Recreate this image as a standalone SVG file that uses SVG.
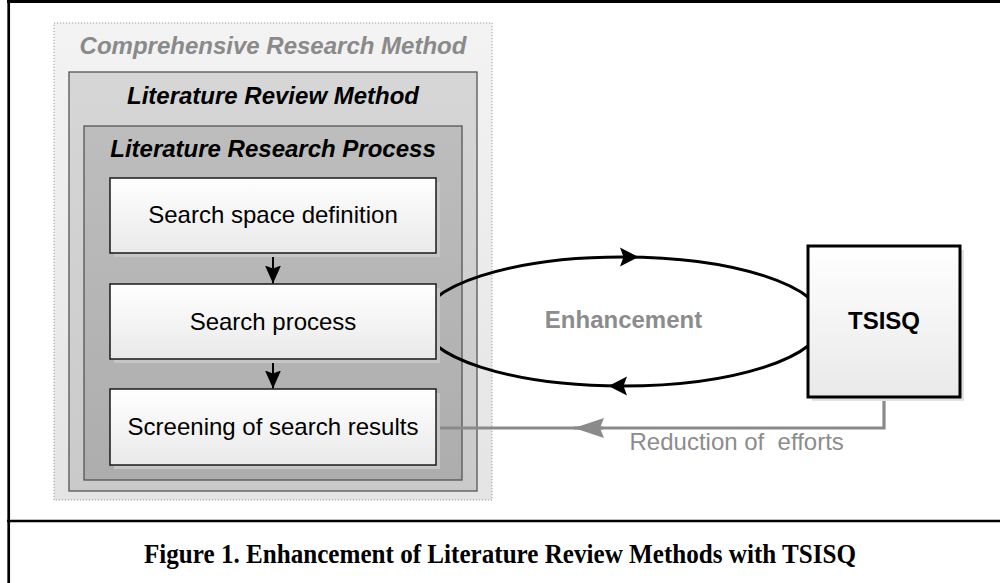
<svg xmlns="http://www.w3.org/2000/svg" width="1000" height="583" viewBox="0 0 1000 583">
  <style>
    .sans { font-family: "Liberation Sans", Arial, sans-serif; }
    .title { font-size: 24px; font-weight: bold; font-style: italic; text-anchor: middle; }
    .label { font-size: 24px; fill: #000; text-anchor: middle; }
    .step { fill: url(#stepFill); stroke: #1a1a1a; stroke-width: 1.5; }
    .shadow { fill: #c6c6c6; }
    .flow { fill: none; stroke: #000; stroke-width: 2; }
    .loop { fill: none; stroke: #000; stroke-width: 3; }
    .feedback { fill: none; stroke: #8a8a8a; stroke-width: 3.2; }
    .frame { stroke: #000; fill: none; }
  </style>
  <defs>
    <linearGradient id="stepFill" x1="0" y1="0" x2="0" y2="1">
      <stop offset="0" stop-color="#ffffff"/>
      <stop offset="1" stop-color="#e9e9e9"/>
    </linearGradient>
    <linearGradient id="outerFill" x1="0" y1="0" x2="0" y2="1">
      <stop offset="0" stop-color="#f3f3f3"/>
      <stop offset="1" stop-color="#e4e4e4"/>
    </linearGradient>
    <linearGradient id="midFill" x1="0" y1="0" x2="0" y2="1">
      <stop offset="0" stop-color="#d6d6d6"/>
      <stop offset="1" stop-color="#cacaca"/>
    </linearGradient>
    <linearGradient id="innerFill" x1="0" y1="0" x2="0" y2="1">
      <stop offset="0" stop-color="#bdbdbd"/>
      <stop offset="1" stop-color="#adadad"/>
    </linearGradient>
    <marker id="arrowDown" viewBox="0 0 18 16" refX="18" refY="8" markerWidth="18" markerHeight="16" markerUnits="userSpaceOnUse" orient="auto">
      <path d="M0,0 L18,8 L0,16 L3,8 Z" fill="#000"/>
    </marker>
    <marker id="arrowGray" viewBox="0 0 30 20" refX="30" refY="10" markerWidth="30" markerHeight="20" markerUnits="userSpaceOnUse" orient="auto">
      <path d="M0,0 L30,10 L0,20 L4,10 Z" fill="#8a8a8a"/>
    </marker>
  </defs>

  <rect width="1000" height="583" fill="#fff"/>

  <!-- page frame and caption divider -->
  <g id="frame" class="frame">
    <line x1="7" y1="1.5" x2="1000" y2="1.5" stroke-width="3"/>
    <line x1="8.7" y1="0" x2="8.7" y2="583" stroke-width="2.7"/>
    <line x1="7" y1="521" x2="1000" y2="521" stroke-width="2.7"/>
  </g>

  <!-- nested method containers -->
  <g id="comprehensive-research-method">
    <rect x="54" y="23" width="438" height="477" fill="url(#outerFill)" stroke="#9a9a9a" stroke-width="1" stroke-dasharray="1.2 1.8"/>
    <text class="sans title" x="273" y="54" fill="#8a8a8a">Comprehensive Research Method</text>
  </g>
  <g id="literature-review-method">
    <rect x="69" y="72" width="408" height="419" fill="url(#midFill)" stroke="#555" stroke-width="1.3"/>
    <text class="sans title" x="273" y="104" fill="#000">Literature Review Method</text>
  </g>
  <g id="literature-research-process">
    <rect x="84" y="126" width="378" height="354" fill="url(#innerFill)" stroke="#555" stroke-width="1.3"/>
    <text class="sans title" x="273" y="157" fill="#000">Literature Research Process</text>
  </g>

  <!-- connectors -->
  <g id="connectors">
    <line class="flow" x1="273" y1="253" x2="273" y2="283.5" marker-end="url(#arrowDown)"/>
    <line class="flow" x1="273" y1="359" x2="273" y2="388.5" marker-end="url(#arrowDown)"/>
    <ellipse class="loop" cx="622.5" cy="321.5" rx="200.5" ry="64.5"/>
    <path d="M620,247.5 L638.5,257 L620,266.5 L623.5,257 Z" fill="#000"/>
    <path d="M627,376.5 L608.5,386 L627,395.5 L623.5,386 Z" fill="#000"/>
    <path class="feedback" d="M884,397 V428 H574" marker-end="url(#arrowGray)"/>
    <line class="feedback" x1="603" y1="428" x2="437" y2="428"/>
    <text class="sans" x="623.5" y="328" font-size="24" font-weight="bold" fill="#8c8c8c" text-anchor="middle">Enhancement</text>
    <text class="sans" x="629.5" y="450" font-size="24" fill="#8c8c8c" xml:space="preserve">Reduction of  efforts</text>
  </g>

  <!-- process steps -->
  <g id="search-space-definition">
    <rect class="shadow" x="114" y="182" width="326" height="75"/>
    <rect class="step" x="110" y="178" width="326" height="75"/>
    <text class="sans label" x="273" y="223">Search space definition</text>
  </g>
  <g id="search-process">
    <rect class="shadow" x="114" y="288" width="326" height="75"/>
    <rect class="step" x="110" y="284" width="326" height="75"/>
    <text class="sans label" x="273" y="330">Search process</text>
  </g>
  <g id="screening-of-search-results">
    <rect class="shadow" x="114" y="393" width="326" height="76"/>
    <rect class="step" x="110" y="389" width="326" height="76"/>
    <text class="sans label" x="273" y="435">Screening of search results</text>
  </g>
  <g id="tsisq">
    <rect x="812" y="250" width="152" height="151" fill="#e2e2e2"/>
    <rect x="808" y="246" width="152" height="151" fill="url(#stepFill)" stroke="#000" stroke-width="3"/>
    <text class="sans" x="884" y="329" font-size="24" font-weight="bold" text-anchor="middle">TSISQ</text>
  </g>

  <!-- caption -->
  <g id="caption">
    <text x="144" y="563" font-family="'Liberation Serif', 'Times New Roman', serif" font-size="27" font-weight="bold" textLength="712" lengthAdjust="spacingAndGlyphs">Figure 1. Enhancement of Literature Review Methods with TSISQ</text>
  </g>
</svg>
